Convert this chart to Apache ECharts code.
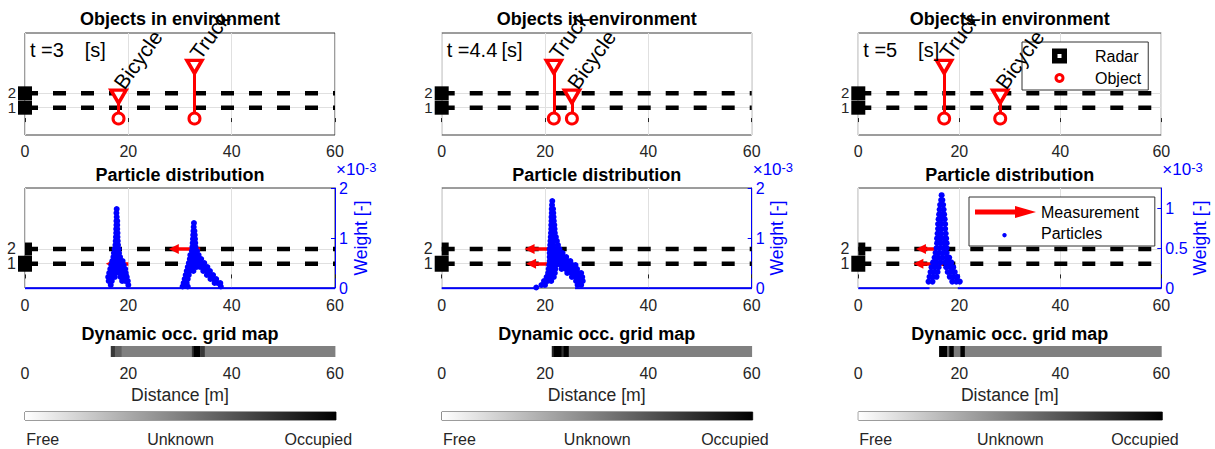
<!DOCTYPE html>
<html><head><meta charset="utf-8">
<script src="https://cdn.jsdelivr.net/npm/echarts@6/dist/echarts.min.js"></script>
<style>html,body{margin:0;padding:0;background:#fff}#c{width:1215px;height:449px}</style>
</head><body><div id="c"></div>
<script>
// ---------------- data ----------------
const lanes = [1, 2];
const timeLabels = ['3', '4.4', '5'];
const objNames = [['Bicycle', 'Truck'], ['Truck', 'Bicycle'], ['Truck', 'Bicycle']];
const objX = [[18.1, 32.8], [21.7, 25.2], [17.0, 28.1]];
const objTop = [[1.77, 3.85], [3.85, 1.77], [3.85, 1.77]];
const objBase = [[0.25, 0.25], [0.25, 0.25], [0.25, 0.25]];
// measurement arrows per lane (lane 1, lane 2): start -> tip
const measFrom = [[20.0, 33.9], [21.0, 21.0], [16.8, 15.5]];
const measTo = [[16.6, 28.8], [17.3, 17.0], [11.9, 12.4]];
const weightMax = [2, 2, 1.25];
const weightTicks = [[0, 1, 2], [0, 1, 2], [0, 0.5, 1]];
// particles [distance m, weight x1e-3]
const particles1 = [
 [17.75,1.58],[17.7,1.5],[17.75,1.42],[17.7,1.34],[17.85,1.34],[17.7,1.26],[17.85,1.26],[17.65,1.18],[17.85,1.18],
 [17.65,1.1],[17.9,1.1],[17.6,1.02],[17.9,1.02],[17.55,0.94],[17.95,0.94],[17.5,0.86],[18.0,0.86],
 [17.35,0.78],[17.75,0.78],[18.15,0.78],[17.2,0.7],[17.7,0.7],[18.2,0.7],[17.1,0.62],[17.6,0.62],[18.1,0.62],[18.4,0.62],
 [16.9,0.54],[17.4,0.54],[17.9,0.54],[18.4,0.54],[18.9,0.54],[16.7,0.46],[17.3,0.46],[17.9,0.46],[18.5,0.46],[19.1,0.46],
 [16.5,0.38],[17.1,0.38],[17.7,0.38],[18.3,0.38],[18.9,0.38],[19.4,0.38],[16.3,0.3],[16.9,0.3],[17.5,0.3],[18.2,0.3],[18.8,0.3],[19.5,0.3],
 [16.1,0.22],[16.7,0.22],[17.4,0.22],[18.5,0.22],[19.1,0.22],[19.7,0.22],[16.2,0.14],[16.8,0.14],[18.8,0.14],[19.4,0.14],[19.9,0.14],
 [16.6,0.06],[20.0,0.06],
 [32.7,1.3],[32.65,1.22],[32.6,1.14],[32.8,1.14],[32.55,1.06],[32.85,1.06],[32.5,0.98],[32.9,0.98],[32.45,0.9],[32.95,0.9],
 [32.4,0.82],[33.0,0.82],[32.3,0.74],[32.8,0.74],[33.3,0.74],[32.0,0.66],[32.5,0.66],[33.0,0.66],[33.6,0.66],
 [31.9,0.58],[32.4,0.58],[32.9,0.58],[33.5,0.58],[34.1,0.58],[31.7,0.5],[32.2,0.5],[32.7,0.5],[33.3,0.5],[33.9,0.5],[34.7,0.5],
 [31.5,0.42],[32.0,0.42],[32.6,0.42],[33.2,0.42],[33.9,0.42],[34.6,0.42],[35.3,0.42],
 [31.3,0.34],[31.9,0.34],[32.6,0.34],[34.5,0.34],[35.2,0.34],[35.8,0.34],[31.1,0.26],[31.7,0.26],[35.2,0.26],[35.8,0.26],[36.4,0.26],
 [30.9,0.18],[31.5,0.18],[35.9,0.18],[36.5,0.18],[37.0,0.18],[30.7,0.1],[31.3,0.1],[36.7,0.1],[37.3,0.1],[37.8,0.1],
 [30.5,0.03],[31.5,0.03],[37.9,0.03]
];
const particles2 = [
 [21.4,1.74],[21.35,1.66],[21.3,1.58],[21.55,1.58],[21.3,1.5],[21.6,1.5],[21.25,1.42],[21.65,1.42],[21.25,1.34],[21.7,1.34],
 [21.2,1.26],[21.8,1.26],[21.2,1.18],[21.85,1.18],[21.15,1.1],[21.9,1.1],[21.1,1.02],[21.6,1.02],[22.1,1.02],
 [21.05,0.94],[21.6,0.94],[22.3,0.94],[21.0,0.86],[21.6,0.86],[22.5,0.86],[20.9,0.78],[21.5,0.78],[22.1,0.78],[22.8,0.78],
 [20.9,0.7],[21.5,0.7],[22.1,0.7],[22.8,0.7],[23.4,0.7],[20.9,0.62],[21.5,0.62],[22.1,0.62],[22.8,0.62],[23.5,0.62],[24.1,0.62],
 [20.9,0.54],[21.5,0.54],[22.2,0.54],[22.9,0.54],[23.6,0.54],[24.3,0.54],[24.9,0.54],
 [20.8,0.46],[21.4,0.46],[22.1,0.46],[23.0,0.46],[23.8,0.46],[24.6,0.46],[25.3,0.46],[25.9,0.46],
 [20.7,0.38],[21.3,0.38],[22.0,0.38],[23.2,0.38],[24.0,0.38],[24.8,0.38],[25.5,0.38],[26.2,0.38],
 [20.6,0.3],[21.2,0.3],[21.9,0.3],[24.3,0.3],[25.1,0.3],[25.8,0.3],[26.5,0.3],[27.0,0.3],
 [20.3,0.22],[21.0,0.22],[21.7,0.22],[25.2,0.22],[25.9,0.22],[26.6,0.22],[27.2,0.22],
 [19.8,0.14],[20.5,0.14],[21.2,0.14],[26.0,0.14],[26.7,0.14],[27.3,0.14],[19.3,0.06],[20.0,0.06],[26.3,0.06],[27.0,0.06],[18.3,0.01]
];
const particles3 = [
 [16.5,1.16],[16.4,1.1],[16.65,1.1],[16.2,1.04],[16.8,1.04],[16.1,0.98],[16.9,0.98],[16.0,0.92],[16.5,0.92],[17.0,0.92],
 [15.9,0.86],[16.5,0.86],[17.1,0.86],[15.8,0.8],[16.4,0.8],[17.2,0.8],[15.8,0.74],[16.4,0.74],[17.2,0.74],[15.7,0.68],[16.4,0.68],[17.3,0.68],
 [15.6,0.62],[16.3,0.62],[17.0,0.62],[17.4,0.62],[15.6,0.56],[16.3,0.56],[17.0,0.56],[17.5,0.56],[15.5,0.5],[16.2,0.5],[16.9,0.5],[17.5,0.5],
 [15.3,0.44],[16.0,0.44],[16.8,0.44],[17.5,0.44],[15.1,0.38],[15.8,0.38],[16.6,0.38],[17.4,0.38],[18.0,0.38],
 [14.8,0.32],[15.5,0.32],[16.3,0.32],[17.2,0.32],[17.9,0.32],[18.4,0.32],[14.5,0.26],[15.2,0.26],[15.9,0.26],[17.4,0.26],[18.2,0.26],[18.8,0.26],
 [14.3,0.2],[15.0,0.2],[15.7,0.2],[17.7,0.2],[18.5,0.2],[19.1,0.2],[14.1,0.14],[14.8,0.14],[15.5,0.14],[18.1,0.14],[18.9,0.14],[19.6,0.14],
 [13.9,0.08],[14.7,0.08],[18.6,0.08],[19.4,0.08],[20.1,0.08]
];
const particles = [particles1, particles2, particles3];
// zero-weight particles along the axis [from, to]
const baseline = [[[0, 60]], [[0, 18.6], [25.8, 60]], [[0, 14.1], [19.7, 60]]];
// dynamic occupancy grid [from m, to m, occupancy 0=free .5=unknown 1=occupied]
const occ1 = [[0,16.6,0],[16.6,17.4,0.78],[17.4,18.7,0.62],[18.7,32.3,0.5],[32.3,32.6,0.8],[32.6,33.9,1],[33.9,34.8,0.78],[34.8,60,0.5]];
const occ2 = [[0,21.3,0],[21.3,21.6,0.85],[21.6,23.2,1],[23.2,23.6,0.8],[23.6,24.6,1],[24.6,60,0.5]];
const occ3 = [[0,16.0,0],[16.0,17.6,1],[17.6,18.0,0.6],[18.0,18.9,1],[18.9,20.2,0.52],[20.2,21.1,1],[21.1,60,0.5]];
const occ = [occ1, occ2, occ3];
const cbTicks = [0.057, 0.5, 0.943];
const cbLabels = ['Free', 'Unknown', 'Occupied'];

// ---------------- layout / style ----------------
const FONT = '"Liberation Sans", Arial, Helvetica, sans-serif';
const AX = '#262626', GRIDC = '#e0e0e0', RED = '#ff0000', BLUE = '#0000ff';
const colL = [25, 441.7, 858.3], colW = [310, 310, 303];
const grid = [], xAxis = [], yAxis = [], series = [], title = [];
const base = {animation: false, silent: true};

function xAx(gi, extra) {
  xAxis.push(Object.assign({gridIndex: gi, type: 'value', min: 0, max: 60, interval: 20}, extra));
  return xAxis.length - 1;
}
function yAx(gi, extra) {
  yAxis.push(Object.assign({gridIndex: gi, type: 'value'}, extra));
  return yAxis.length - 1;
}
const tickLab = {fontSize: 16, color: AX, fontFamily: FONT};
// lane axes: one axis draws the grid lines at both lanes; each lane label sits on its own axis
function laneAxes(gi, mn, mx, fs) {
  const lab = {fontSize: fs, color: AX, fontFamily: FONT, lineHeight: 13, margin: 9};
  const main = yAx(gi, {min: mn, max: mx, axisLine: {show: false}, axisTick: {show: false, customValues: lanes},
    axisLabel: Object.assign({customValues: [lanes[1]], verticalAlign: 'bottom', padding: [0, 0, -6, 0]}, lab),
    splitLine: {show: true, lineStyle: {color: GRIDC}}});
  yAx(gi, {min: mn, max: mx, position: 'left', offset: 0, axisLine: {show: false}, axisTick: {show: false, customValues: [lanes[0]]},
    axisLabel: Object.assign({customValues: [lanes[0]]}, lab), splitLine: {show: false}});
  return main;
}
const normal = {fontWeight: 'normal', fontFamily: FONT};

for (let c = 0; c < 3; c++) {
  const L = colL[c], W = colW[c], cx = L + W / 2;
  // ---- top: objects ----
  let gi = grid.length;
  grid.push({left: L, top: 33, width: W, height: 102, show: true, borderColor: '#3a3a3a', borderWidth: 1, backgroundColor: '#fff'});
  let xi = xAx(gi, {axisLine: {show: false}, axisTick: {inside: true, length: 4, lineStyle: {color: AX}},
    axisLabel: Object.assign({margin: 8}, tickLab), splitLine: {show: true, lineStyle: {color: GRIDC}}});
  let yi = laneAxes(gi, -0.9, 6.2, 15);
  lanes.forEach(l => series.push(Object.assign({type: 'line', xAxisIndex: xi, yAxisIndex: yi, data: [[0, l], [60, l]],
    symbol: 'none', lineStyle: {color: '#000', width: 4.5, type: [13, 15]}, z: 3}, base)));
  series.push(Object.assign({type: 'lines', coordinateSystem: 'cartesian2d', xAxisIndex: xi, yAxisIndex: yi,
    data: objX[c].map((x, i) => ({coords: [[x, objBase[c][i]], [x, objTop[c][i]]]})),
    lineStyle: {color: RED, width: 3, opacity: 1}, z: 4}, base));
  series.push(Object.assign({type: 'scatter', name: 'Object', xAxisIndex: xi, yAxisIndex: yi,
    data: objX[c].map((x, i) => [x, objBase[c][i]]), symbol: 'circle', symbolSize: 11,
    itemStyle: {color: '#fff', borderColor: RED, borderWidth: 3, opacity: 1}, z: 5}, base));
  series.push(Object.assign({type: 'scatter', xAxisIndex: xi, yAxisIndex: yi, clip: false,
    data: objX[c].map((x, i) => ({name: objNames[c][i], value: [x, objTop[c][i]]})),
    symbol: 'triangle', symbolRotate: 180, symbolSize: [15, 13],
    itemStyle: {color: '#fff', borderColor: RED, borderWidth: 3.5, opacity: 1},
    label: {show: true, formatter: '{b}', position: 'top', distance: 2, rotate: 54, align: 'left', verticalAlign: 'middle',
      fontSize: 21, color: '#000', fontFamily: FONT}, z: 5}, base));
  series.push(Object.assign({type: 'scatter', name: 'Radar', xAxisIndex: xi, yAxisIndex: yi, clip: false,
    data: lanes.map(l => [0, l]), symbol: 'rect', symbolSize: 14, itemStyle: {color: '#000', opacity: 1}, z: 6}, base));
  title.push({text: 'Objects in environment', left: cx, top: 10, textAlign: 'center', padding: 0,
    textStyle: {fontSize: 18, fontWeight: 'bold', color: '#000', fontFamily: FONT}});
  title.push({text: '{p|t =}{v|' + timeLabels[c] + '}{p|[s]}', left: L + 5, top: 40, padding: 0,
    textStyle: Object.assign({fontSize: 20, color: '#000', rich: {
      p: Object.assign({fontSize: 20, color: '#000'}, normal),
      v: Object.assign({fontSize: 20, color: '#000', width: 32}, normal)}}, normal)});

  // ---- middle: particles ----
  gi = grid.length;
  grid.push({left: L, top: 188, width: W, height: 100, show: true, borderColor: '#3a3a3a', borderWidth: 1, backgroundColor: '#fff'});
  xi = xAx(gi, {axisLine: {show: false}, axisTick: {inside: true, length: 4, lineStyle: {color: AX}},
    axisLabel: Object.assign({margin: 9}, tickLab), splitLine: {show: true, lineStyle: {color: GRIDC}}});
  yi = laneAxes(gi, -0.65, 6.15, 16);
  const yr = yAx(gi, {position: 'right', min: 0, max: weightMax[c],
    axisLine: {show: true, lineStyle: {color: BLUE, width: 1}},
    axisTick: {show: true, inside: true, length: 4, lineStyle: {color: BLUE}, customValues: weightTicks[c]},
    axisLabel: {customValues: weightTicks[c], color: BLUE, fontSize: 16, fontFamily: FONT, margin: 4, lineHeight: 13},
    splitLine: {show: false},
    name: 'Weight [-]', nameLocation: 'middle', nameGap: c === 2 ? 30 : 15,
    nameTextStyle: {color: BLUE, fontSize: 17.6, fontFamily: FONT}});
  lanes.forEach(l => series.push(Object.assign({type: 'line', xAxisIndex: xi, yAxisIndex: yi, data: [[0, l], [60, l]],
    symbol: 'none', lineStyle: {color: '#000', width: 4.5, type: [13, 15]}, z: 3}, base)));
  series.push(Object.assign({type: 'scatter', xAxisIndex: xi, yAxisIndex: yi, clip: false,
    data: [{value: [0, lanes[0]], symbolSize: [14, 16]}, {value: [0, lanes[1]], symbolSize: [7, 13], symbolOffset: [3.5, 0]}],
    symbol: 'rect', itemStyle: {color: '#000', opacity: 1}, z: 6}, base));
  series.push(Object.assign({type: 'lines', name: 'Measurement', coordinateSystem: 'cartesian2d', xAxisIndex: xi, yAxisIndex: yi,
    data: lanes.map((l, i) => ({coords: [[measFrom[c][i], l], [measTo[c][i], l]]})),
    symbol: ['none', 'triangle'], symbolSize: 10, lineStyle: {color: RED, width: 3.5, opacity: 1}, z: 4}, base));
  series.push(Object.assign({type: 'lines', coordinateSystem: 'cartesian2d', xAxisIndex: xi, yAxisIndex: yr,
    data: baseline[c].map(s => ({coords: [[s[0], 0], [s[1], 0]]})),
    lineStyle: {color: BLUE, width: 2.5, opacity: 1}, z: 5}, base));
  series.push(Object.assign({type: 'scatter', name: 'Particles', xAxisIndex: xi, yAxisIndex: yr,
    data: particles[c], symbol: 'circle', symbolSize: 6, itemStyle: {color: BLUE, opacity: 1}, z: 6}, base));
  title.push({text: 'Particle distribution', left: cx, top: 166, textAlign: 'center', padding: 0,
    textStyle: {fontSize: 18, fontWeight: 'bold', color: '#000', fontFamily: FONT}});
  title.push({text: '{a|\u00d710}{b|-3}', left: L + W + 1, top: 161, padding: 0,
    textStyle: Object.assign({color: BLUE, rich: {
      a: Object.assign({fontSize: 17, color: BLUE, lineHeight: 17}, normal),
      b: Object.assign({fontSize: 13, color: BLUE, verticalAlign: 'top', lineHeight: 13}, normal)}}, normal)});

  // ---- bottom: dynamic occupancy strip ----
  gi = grid.length;
  grid.push({left: L, top: 346, width: W, height: 11, show: false});
  xi = xAx(gi, {axisLine: {show: false}, axisTick: {show: false}, axisLabel: Object.assign({margin: 8}, tickLab),
    splitLine: {show: false}, name: 'Distance [m]', nameLocation: 'middle', nameGap: 29,
    nameTextStyle: {fontSize: 17.6, color: AX, fontFamily: FONT}});
  yi = yAx(gi, {min: 0, max: 1, show: false});
  series.push(Object.assign({type: 'custom', xAxisIndex: xi, yAxisIndex: yi, data: occ[c],
    renderItem: (p, api) => {
      const a = api.coord([api.value(0), 1]), b = api.coord([api.value(1), 0]);
      const g = Math.round(255 * (1 - api.value(2)));
      return {type: 'rect', shape: {x: a[0], y: a[1], width: b[0] - a[0] + 0.4, height: b[1] - a[1]},
        style: {fill: 'rgb(' + g + ',' + g + ',' + g + ')'}};
    }, z: 2}, base));
  title.push({text: 'Dynamic occ. grid map', left: cx, top: 325, textAlign: 'center', padding: 0,
    textStyle: {fontSize: 18, fontWeight: 'bold', color: '#000', fontFamily: FONT}});

  // ---- colorbar ----
  gi = grid.length;
  grid.push({left: L, top: 412, width: W + 1, height: 8, show: true, borderColor: '#3a3a3a', borderWidth: 1});
  xi = xAxis.length;
  xAxis.push({gridIndex: gi, type: 'value', min: 0, max: 1, axisLine: {show: false},
    axisTick: {show: true, inside: true, length: 3, customValues: cbTicks, lineStyle: {color: AX}},
    axisLabel: Object.assign({margin: 11, customValues: cbTicks,
      formatter: v => { let k = 0; cbTicks.forEach((t, i) => { if (Math.abs(t - v) < Math.abs(cbTicks[k] - v)) k = i; }); return cbLabels[k]; }}, tickLab),
    splitLine: {show: false}});
  yi = yAx(gi, {min: 0, max: 1, show: false});
  series.push(Object.assign({type: 'custom', xAxisIndex: xi, yAxisIndex: yi, data: [[0, 1]],
    renderItem: (p, api) => {
      const a = api.coord([api.value(0), 1]), b = api.coord([api.value(1), 0]);
      return {type: 'rect', shape: {x: a[0], y: a[1], width: b[0] - a[0], height: b[1] - a[1]},
        style: {fill: new echarts.graphic.LinearGradient(0, 0, 1, 0, [{offset: 0, color: '#ffffff'}, {offset: 1, color: '#000000'}])}};
    }, z: 1}, base));
}

const legend = [
  {orient: 'vertical', left: 1022, top: 42, padding: [5, 7, 3, 30], itemGap: 4, itemWidth: 15, itemHeight: 15,
   backgroundColor: '#fff', borderColor: '#333', borderWidth: 1, selectedMode: false,
   textStyle: {fontSize: 16, color: '#000', fontFamily: FONT, padding: [0, 0, 0, 23], lineHeight: 18},
   data: [
     {name: 'Radar', icon: 'path://M0,0L15,0L15,15L0,15ZM5.5,5.5L5.5,9.5L9.5,9.5L9.5,5.5Z', itemStyle: {color: '#000', borderWidth: 0}},
     {name: 'Object', icon: 'path://M0,0M15,15M7.5,2.5A5,5,0,1,1,7.49,2.5ZM7.5,5.5A2,2,0,1,0,7.51,5.5Z', itemStyle: {color: RED, borderWidth: 0}}
   ]},
  {orient: 'vertical', left: 969, top: 197, padding: [6, 16, 4, 6], itemGap: 3, itemWidth: 61, itemHeight: 14,
   backgroundColor: '#fff', borderColor: '#333', borderWidth: 1, selectedMode: false,
   textStyle: {fontSize: 16, color: '#000', fontFamily: FONT, lineHeight: 18},
   data: [
     {name: 'Measurement', icon: 'path://M0,4.5L40,4.5L40,1L61,7L40,13L40,9.5L0,9.5Z', itemStyle: {color: RED, borderWidth: 0}},
     {name: 'Particles', icon: 'path://M0,0M61,14M29.5,7A2.2,2.2,0,1,1,29.49,7Z', itemStyle: {color: BLUE, borderWidth: 0}}
   ]}
];

const chart = echarts.init(document.getElementById('c'), null, {renderer: 'svg', width: 1215, height: 449});
chart.setOption({
  animation: false,
  backgroundColor: '#fff',
  textStyle: {fontFamily: FONT},
  title: title, legend: legend, grid: grid, xAxis: xAxis, yAxis: yAxis, series: series
});
</script></body></html>
